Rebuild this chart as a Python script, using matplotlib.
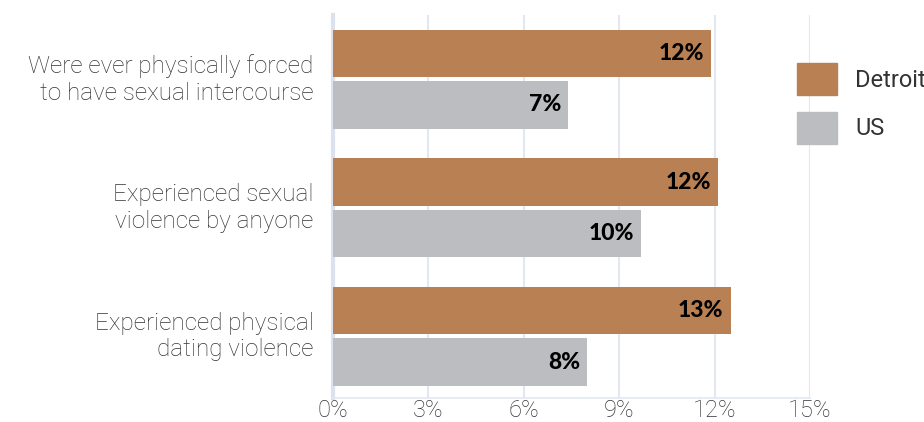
import matplotlib.pyplot as plt
import matplotlib.transforms as mtransforms
from matplotlib.patches import Patch

categories = [
    "Were ever physically forced\nto have sexual intercourse",
    "Experienced sexual\nviolence by anyone",
    "Experienced physical\ndating violence",
]
detroit = [11.9, 12.1, 12.5]
us = [7.4, 9.7, 8.0]
detroit_labels = ["12%", "12%", "13%"]
us_labels = ["7%", "10%", "8%"]
xticks = [0, 3, 6, 9, 12, 15]

DETROIT_COLOR = "#b98053"
US_COLOR = "#bcbdc1"
GRID_COLOR = "#e3e7f1"
TEXT_COLOR = "#333333"

fig = plt.figure(figsize=(9.24, 4.22), dpi=100)
ax = fig.add_axes([333 / 924, 1 - 398 / 422, (810 - 333) / 924, (398 - 15) / 422])

ypos = list(range(len(categories)))
h = 0.367
off = 0.2
ax.barh([y - off for y in ypos], detroit, height=h, color=DETROIT_COLOR, zorder=3)
ax.barh([y + off for y in ypos], us, height=h, color=US_COLOR, zorder=3)

for y, v, lab in zip(ypos, detroit, detroit_labels):
    ax.text(v - 0.22, y - off, lab, ha="right", va="center", fontsize=16.5,
            fontfamily="Lato", fontweight="black", color="black", zorder=4)
for y, v, lab in zip(ypos, us, us_labels):
    ax.text(v - 0.22, y + off, lab, ha="right", va="center", fontsize=16.5,
            fontfamily="Lato", fontweight="black", color="black", zorder=4)

ax.set_xlim(0, 15)
ax.set_ylim(2.48, -0.5)
ax.set_xticks(xticks)
ax.set_xticklabels([f"{t}%" for t in xticks], fontsize=17, fontfamily="Roboto",
                   fontweight="light", color=TEXT_COLOR)
ax.set_yticks(ypos)
ax.set_yticklabels(categories, fontsize=17.5, fontfamily="Roboto",
                   fontweight="light", color=TEXT_COLOR, ha="right",
                   multialignment="right", linespacing=1.2)
ax.tick_params(axis="both", length=0)
ax.tick_params(axis="y", pad=14)
ax.tick_params(axis="x", pad=1)

shift = mtransforms.ScaledTranslation(0, 4 / 100, fig.dpi_scale_trans)
for lbl in ax.get_yticklabels():
    lbl.set_transform(lbl.get_transform() + shift)

ax.grid(axis="x", color=GRID_COLOR, linewidth=1.5, zorder=0)
for side in ["top", "right"]:
    ax.spines[side].set_visible(False)
ax.spines["left"].set_color("#dbe1ef")
ax.spines["left"].set_linewidth(3)
ax.spines["bottom"].set_color(GRID_COLOR)
ax.spines["bottom"].set_linewidth(1.2)

handles = [Patch(color=DETROIT_COLOR, label="Detroit"), Patch(color=US_COLOR, label="US")]
fig.legend(handles=handles, loc="upper left", bbox_to_anchor=(797 / 924, 1 - 63 / 422),
           frameon=False, borderpad=0, borderaxespad=0, handlelength=1.7,
           handleheight=1.7, labelspacing=0.72, handletextpad=0.76,
           prop={"family": "Roboto", "size": 17}, labelcolor="#333333")

fig.savefig("out.png", dpi=100)
